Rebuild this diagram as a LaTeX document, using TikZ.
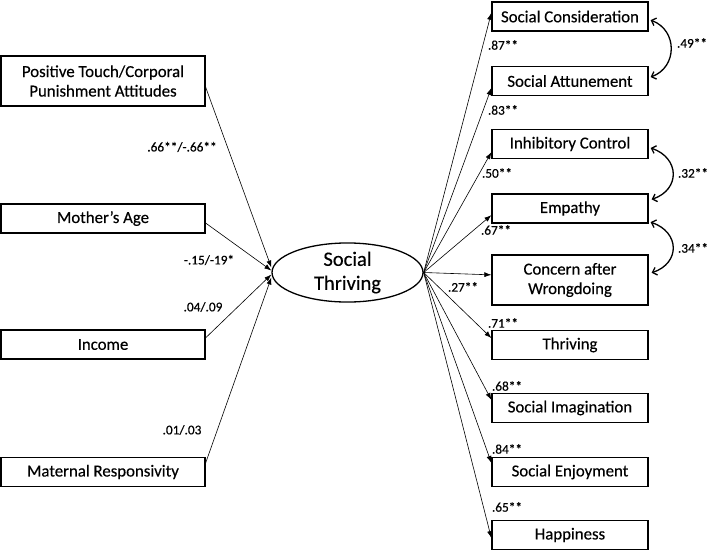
\documentclass[tikz,border=0pt]{standalone}
\usepackage{fontspec}
\setmainfont{Carlito}[FakeBold=0.35]
\usetikzlibrary{arrows.meta,calc,shapes.geometric}
\begin{document}
\begin{tikzpicture}[x=1pt,y=-1pt,
  box/.style={draw, line width=1.3pt, inner sep=0pt, align=center, font=\fontsize{16.8}{19.5}\selectfont},
  lbox/.style={box, minimum width=204pt, minimum height=29pt},
  rbox/.style={box, minimum width=156pt, minimum height=29pt},
  lbl/.style={font=\fontsize{13.3}{15}\selectfont, inner sep=0pt},
  pathar/.style={-{Latex[length=7pt,width=5pt]}, line width=0.6pt},
  cov/.style={{Straight Barb[length=4pt,width=8pt]}-{Straight Barb[length=4pt,width=8pt]}, line width=1.3pt}]
\useasboundingbox (0,0) rectangle (709,551);
% left boxes
\node[lbox, minimum height=50pt] (pt) at (103,81) {Positive Touch/Corporal\\Punishment Attitudes};
\node[lbox] (ma) at (103,218.5) {Mother’s Age};
\node[lbox] (inc) at (103,344.5) {Income};
\node[lbox] (mr) at (103,472) {Maternal Responsivity};
% latent
\node[draw, ellipse, line width=1.3pt, minimum width=151pt, minimum height=59pt, inner sep=0pt, align=center, font=\fontsize{20.5}{24}\selectfont] (st) at (347.5,272.5) {Social\\Thriving};
% right boxes
\node[rbox] (sc) at (570,16.5) {Social Consideration};
\node[rbox] (sa) at (570,81) {Social Attunement};
\node[rbox] (ic) at (570,144) {Inhibitory Control};
\node[rbox] (em) at (570,208.5) {Empathy};
\node[rbox, minimum height=50pt] (cw) at (570,280) {Concern after\\Wrongdoing};
\node[rbox] (th) at (570,345) {Thriving};
\node[rbox] (si) at (570,408) {Social Imagination};
\node[rbox] (se) at (570,472) {Social Enjoyment};
\node[rbox] (hp) at (570,535) {Happiness};
% left paths
\draw[pathar] ($(pt.north east)!0.62!(pt.south east)$) -- ($(st.west)+(0,-5)$);
\draw[pathar] ($(ma.north east)!0.65!(ma.south east)$) -- ($(st.west)+(0,-2)$);
\draw[pathar] ($(inc.north east)!0.28!(inc.south east)$) -- ($(st.west)+(0,2)$);
\draw[pathar] ($(mr.north east)!0.2!(mr.south east)$) -- ($(st.west)+(0,5)$);
\node[lbl] at (182,147) {.66**/-.66**};
\node[lbl] at (209,260) {-.15/-19*};
\node[lbl] at (203,307) {.04/.09};
\node[lbl] at (182,430) {.01/.03};
% right paths
\draw[pathar] (st.east) -- ($(sc.north west)!0.38!(sc.south west)$);
\draw[pathar] (st.east) -- ($(sa.north west)!0.73!(sa.south west)$);
\draw[pathar] (st.east) -- ($(ic.north west)!0.77!(ic.south west)$);
\draw[pathar] (st.east) -- ($(em.north west)!0.72!(em.south west)$);
\draw[pathar] (st.east) -- ($(cw.north west)!0.4!(cw.south west)$);
\draw[pathar] (st.east) -- ($(th.north west)!0.27!(th.south west)$);
\draw[pathar] (st.east) -- ($(si.north west)!0.23!(si.south west)$);
\draw[pathar] (st.east) -- ($(se.north west)!0.2!(se.south west)$);
\draw[pathar] (st.east) -- ($(hp.north west)!0.6!(hp.south west)$);
\node[lbl] at (503,45) {.87**};
\node[lbl] at (503,110) {.83**};
\node[lbl] at (497,173) {.50**};
\node[lbl] at (496,230) {.67**};
\node[lbl] at (463,287) {.27**};
\node[lbl] at (503,323) {.71**};
\node[lbl] at (507,386) {.68**};
\node[lbl] at (507,449) {.84**};
\node[lbl] at (507,507) {.65**};
% covariances
\draw[cov] ($(sc.north east)!0.62!(sc.south east)+(2,0)$) .. controls +(27,10) and +(27,-10) .. ($(sa.north east)!0.37!(sa.south east)+(2,0)$);
\draw[cov] ($(ic.north east)!0.63!(ic.south east)+(2,0)$) .. controls +(29,10) and +(29,-10) .. ($(em.north east)!0.2!(em.south east)+(3,0)$);
\draw[cov] ($(em.north east)!0.95!(em.south east)+(2,0)$) .. controls +(29,10) and +(29,-10) .. ($(cw.north east)!0.36!(cw.south east)+(3,0)$);
\node[lbl] at (692,43) {.49**};
\node[lbl] at (693,173) {.32**};
\node[lbl] at (693,248) {.34**};
\end{tikzpicture}
\end{document}
